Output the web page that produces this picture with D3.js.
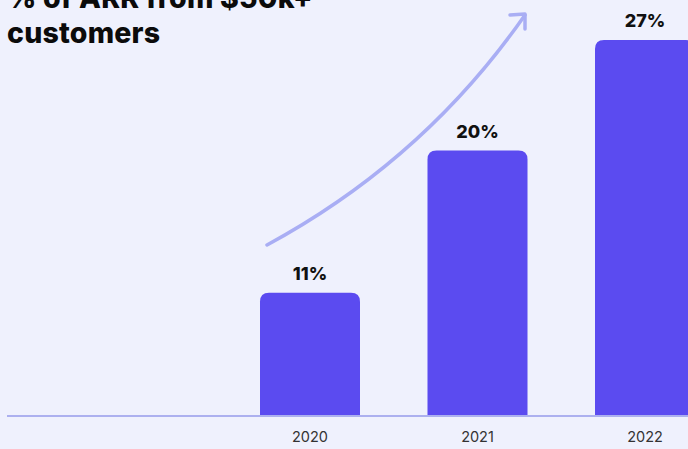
<!DOCTYPE html>
<html>
<head>
<meta charset="utf-8">
<script src="https://cdn.jsdelivr.net/npm/d3@7"></script>
<style>
  html, body { margin: 0; padding: 0; background: #eff1fd; overflow: hidden; }
  svg { display: block; }
</style>
</head>
<body>
<script>
// Share of ARR coming from customers paying $50k+
const years = [2020, 2021, 2022];
const shares = [11, 20, 27];
const valueLabels = ["11%", "20%", "27%"];
const titleLines = ["% of ARR from $50k+", "customers"];

const W = 688, H = 449;
const svg = d3.select("body").append("svg").attr("width", W).attr("height", H);

svg.append("rect").attr("width", W).attr("height", H).attr("fill", "#eff1fd");

const baseY = 416;
const x = d3.scaleLinear().domain([2020, 2022]).range([310, 645]);
const y = d3.scaleLinear().domain([3.2, 27]).range([baseY, 40]);
const barW = 100, r = 9;

// bars with rounded top corners
function barPath(cx, top, bottom) {
  const x0 = cx - barW / 2, x1 = cx + barW / 2;
  return `M${x0},${bottom} L${x0},${top + r} Q${x0},${top} ${x0 + r},${top} L${x1 - r},${top} Q${x1},${top} ${x1},${top + r} L${x1},${bottom} Z`;
}

svg.selectAll("path.bar").data(years).join("path")
  .attr("class", "bar")
  .attr("d", (d, i) => barPath(x(d), y(shares[i]), baseY))
  .attr("fill", "#5b4bf0");

// baseline
svg.append("line")
  .attr("x1", 7).attr("x2", W).attr("y1", baseY).attr("y2", baseY)
  .attr("stroke", "#acb0ef").attr("stroke-width", 2);

// value labels
svg.selectAll("text.val").data(years).join("text")
  .attr("class", "val")
  .attr("x", d => x(d))
  .attr("y", (d, i) => y(shares[i]) - 13)
  .attr("text-anchor", "middle")
  .attr("font-family", "Inter, 'DejaVu Sans', sans-serif")
  .attr("font-weight", 800)
  .attr("font-size", 18)
  .attr("fill", "#111")
  .text((d, i) => valueLabels[i]);

// year axis labels
svg.selectAll("text.year").data(years).join("text")
  .attr("class", "year")
  .attr("x", d => x(d))
  .attr("y", 442)
  .attr("text-anchor", "middle")
  .attr("font-family", "Inter, 'DejaVu Sans', sans-serif")
  .attr("font-size", 14.5)
  .attr("fill", "#333")
  .text(d => d);

// growth arrow
svg.append("path")
  .attr("d", "M267,245 Q424,160 525,15")
  .attr("fill", "none")
  .attr("stroke", "#a9aef4")
  .attr("stroke-width", 3.5)
  .attr("stroke-linecap", "round");
svg.append("path")
  .attr("d", "M510,15 L525,14 L525,29")
  .attr("fill", "none")
  .attr("stroke", "#a9aef4")
  .attr("stroke-width", 3.5)
  .attr("stroke-linecap", "round")
  .attr("stroke-linejoin", "round");

// title
svg.selectAll("text.title").data(titleLines).join("text")
  .attr("class", "title")
  .attr("x", 7)
  .attr("y", (d, i) => 8 + i * 35)
  .attr("font-family", "Inter, 'DejaVu Sans', sans-serif")
  .attr("font-weight", 800)
  .attr("font-size", 28.5)
  .attr("letter-spacing", 0.2)
  .attr("fill", "#0b0b0b")
  .text(d => d);
</script>
</body>
</html>
